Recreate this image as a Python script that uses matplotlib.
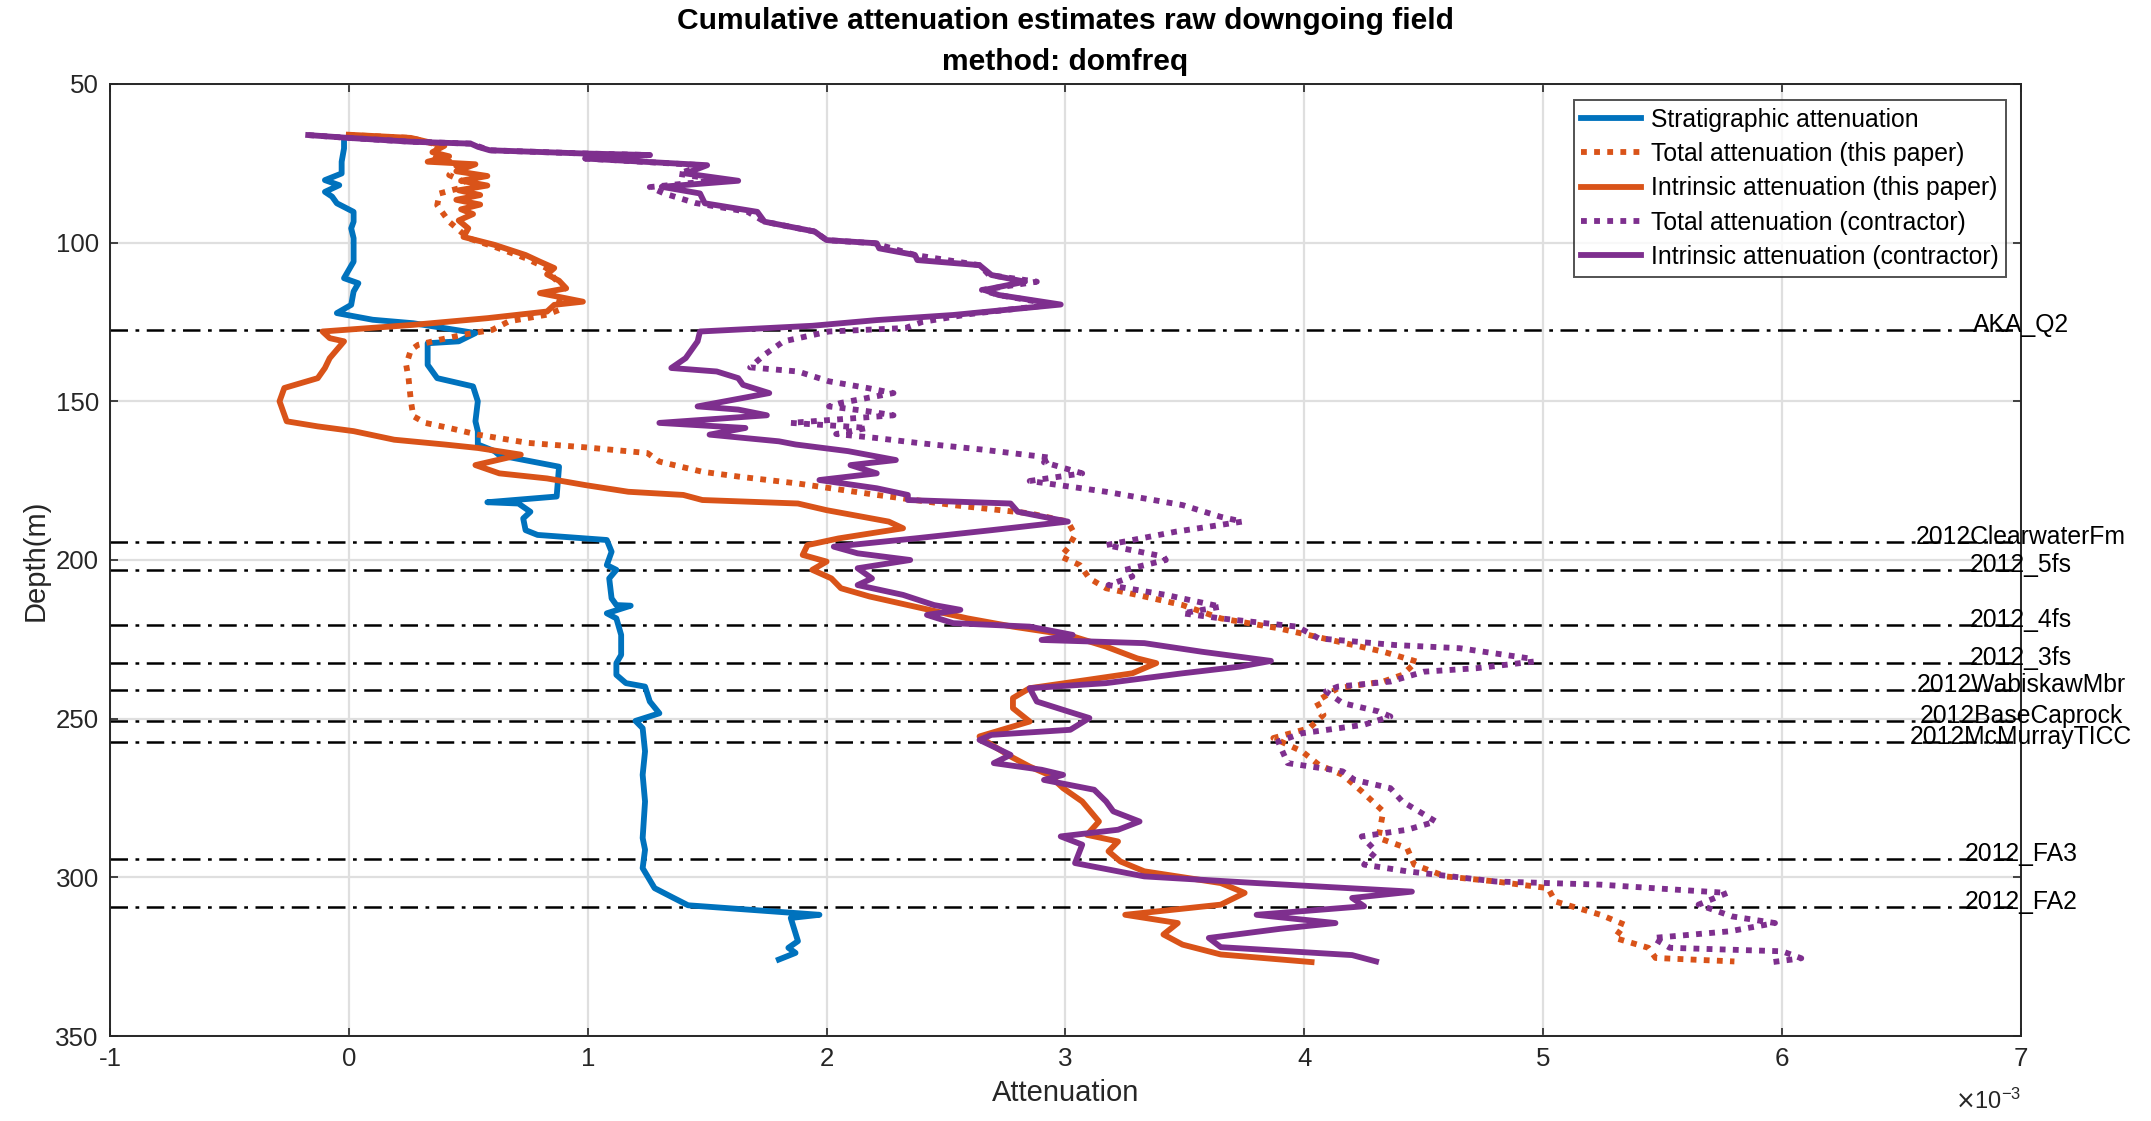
import numpy as np
import matplotlib
matplotlib.use("Agg")
import matplotlib.pyplot as plt

plt.rcParams['font.family'] = ['Liberation Sans', 'DejaVu Sans']
plt.rcParams['axes.unicode_minus'] = False

# depth (m) and attenuation (x1e-3) picked per curve
strat_depth = [67.0, 70.3, 74.5, 78.2, 80.3, 81.9, 84.0, 85.5, 87.6, 90.3, 93.4, 95.5, 98.6, 102.8,
               106.0, 111.2, 112.8, 115.4, 119.6, 122.2, 124.3, 125.4, 126.7, 128.5, 131.1, 131.7,
               138.5, 142.7, 145.3, 150.0, 156.3, 159.4, 163.6, 165.7, 167.0, 170.6, 180.0, 181.8,
               182.2, 184.8, 186.9, 190.6, 192.1, 193.7, 197.4, 201.6, 203.1, 205.8, 212.1, 214.2,
               214.4, 216.8, 218.4, 223.6, 229.9, 232.5, 236.2, 238.8, 239.9, 244.6, 248.3, 250.7,
               253.0, 260.3, 267.7, 276.1, 287.6, 291.3, 297.1, 303.4, 306.5, 308.8, 311.8, 312.8,
               320.1, 322.2, 323.8, 325.9]
strat_att = [-0.02, -0.02, -0.03, -0.03, -0.10, -0.04, -0.10, -0.07, -0.05, 0.02, 0.02, 0.01, 0.02, 0.02,
             0.02, -0.02, 0.04, 0.02, 0.01, -0.05, 0.10, 0.27, 0.38, 0.53, 0.46, 0.33,
             0.33, 0.37, 0.52, 0.54, 0.53, 0.54, 0.54, 0.61, 0.63, 0.88, 0.87, 0.58,
             0.71, 0.76, 0.73, 0.74, 0.79, 1.08, 1.10, 1.08, 1.12, 1.09, 1.10, 1.12,
             1.18, 1.08, 1.12, 1.14, 1.14, 1.12, 1.12, 1.16, 1.24, 1.26, 1.30, 1.20,
             1.23, 1.24, 1.23, 1.24, 1.23, 1.24, 1.23, 1.28, 1.36, 1.42, 1.97, 1.85,
             1.88, 1.84, 1.87, 1.80]

tot_paper_depth = [66.1, 67.0, 69.3, 72.4, 75.6, 78.7, 80.8, 82.9, 84.5, 88.2, 93.4, 98.6, 101.3,
                   104.9, 108.1, 111.2, 114.4, 118.6, 121.2, 122.7, 124.8, 127.5, 129.0, 130.6,
                   132.2, 133.8, 138.5, 142.7, 150.0, 154.7, 156.8, 158.4, 160.5, 163.1, 164.5,
                   166.3, 169.0, 172.2, 173.8, 175.9, 179.5, 182.7, 185.3, 187.9, 192.1, 196.3,
                   198.9, 201.6, 205.8, 208.9, 211.5, 214.2, 218.4, 221.5, 225.7, 228.9, 232.0,
                   236.2, 238.3, 240.4, 244.6, 248.8, 253.0, 256.1, 260.3, 264.5, 267.7, 272.9,
                   279.2, 287.6, 290.8, 296.0, 299.7, 301.3, 303.4, 307.6, 311.8, 314.9, 319.1,
                   322.2, 325.4, 326.5]
tot_paper_att = [0.00, 0.26, 0.38, 0.35, 0.46, 0.42, 0.48, 0.46, 0.38, 0.37, 0.42, 0.50, 0.61,
                 0.74, 0.83, 0.86, 0.90, 0.88, 0.88, 0.83, 0.67, 0.60, 0.48, 0.38,
                 0.29, 0.26, 0.24, 0.25, 0.26, 0.27, 0.32, 0.42, 0.54, 0.75, 0.99,
                 1.25, 1.30, 1.48, 1.64, 1.88, 2.21, 2.53, 2.85, 3.01, 3.04, 3.01,
                 2.98, 3.06, 3.10, 3.17, 3.33, 3.49, 3.65, 3.89, 4.14, 4.33, 4.47,
                 4.41, 4.33, 4.14, 4.05, 4.08, 4.02, 3.87, 3.99, 4.06, 4.16, 4.24,
                 4.33, 4.31, 4.43, 4.46, 4.59, 4.80, 5.02, 5.05, 5.24, 5.34, 5.30,
                 5.44, 5.47, 5.80]

int_paper_depth = [66.0, 67.0, 69.5, 71.5, 72.8, 74.5, 75.3, 77.5, 79.0, 80.5, 82.0, 83.5, 85.0,
                   86.5, 88.0, 89.5, 91.0, 93.0, 95.5, 98.2, 100.7, 103.9, 106.0, 108.0, 110.0,
                   112.0, 114.4, 115.9, 118.6, 119.6, 121.7, 123.8, 125.9, 128.0, 130.1, 131.1,
                   136.4, 139.5, 142.7, 145.8, 150.0, 156.3, 157.9, 159.4, 162.1, 163.6, 164.7,
                   166.8, 170.1, 172.7, 174.3, 176.4, 178.5, 179.5, 181.1, 182.2, 184.3, 187.9,
                   190.0, 193.2, 195.3, 198.4, 200.5, 203.1, 205.8, 208.9, 211.5, 214.2, 218.4,
                   221.0, 223.6, 227.3, 231.0, 232.5, 235.7, 237.8, 240.4, 243.5, 246.7, 250.9,
                   255.6, 258.2, 261.9, 265.1, 267.7, 271.9, 276.1, 282.4, 286.6, 288.7, 291.8,
                   295.0, 298.1, 301.8, 304.9, 308.6, 311.8, 314.4, 318.0, 321.2, 324.3, 326.7]
int_paper_att = [0.00, 0.26, 0.40, 0.35, 0.42, 0.33, 0.53, 0.45, 0.58, 0.47, 0.58, 0.46, 0.55,
                 0.45, 0.55, 0.47, 0.52, 0.46, 0.50, 0.48, 0.61, 0.74, 0.80, 0.86, 0.83,
                 0.88, 0.91, 0.80, 0.98, 0.86, 0.83, 0.58, 0.27, -0.11, -0.08, -0.02,
                 -0.08, -0.10, -0.13, -0.27, -0.29, -0.26, -0.13, 0.02, 0.19, 0.40, 0.54,
                 0.72, 0.53, 0.63, 0.83, 0.99, 1.17, 1.40, 1.48, 1.88, 2.00, 2.26,
                 2.32, 2.05, 1.92, 1.90, 2.00, 1.94, 2.02, 2.06, 2.18, 2.34, 2.59,
                 2.78, 3.01, 3.17, 3.30, 3.38, 3.28, 3.09, 2.85, 2.78, 2.78, 2.85,
                 2.64, 2.69, 2.77, 2.85, 2.93, 2.99, 3.07, 3.14, 3.09, 3.22, 3.18,
                 3.23, 3.33, 3.65, 3.75, 3.65, 3.25, 3.47, 3.41, 3.49, 3.65, 4.03]

tot_con_depth = [66.1, 67.0, 68.2, 68.8, 70.9, 71.9, 72.4, 73.5, 75.6, 78.3, 80.3, 82.5, 84.5,
                 87.5, 90.3, 93.4, 96.5, 99.2, 100.2, 103.9, 107.1, 110.2, 112.3, 114.9, 116.5,
                 119.5, 122.5, 125.0, 126.9, 128.0, 131.1, 135.3, 139.3, 140.6, 143.7, 145.8,
                 147.4, 150.5, 151.6, 153.1, 154.4, 156.8, 157.9, 158.4, 160.3, 161.5, 163.1,
                 165.2, 167.8, 169.2, 172.7, 175.1, 178.5, 182.7, 186.4, 187.9, 191.1, 195.3,
                 198.9, 200.0, 203.1, 205.2, 207.9, 211.0, 214.7, 216.8, 218.4, 221.0, 224.7,
                 226.8, 227.8, 231.0, 232.0, 234.1, 235.2, 238.3, 239.9, 241.4, 245.1, 247.7,
                 249.3, 251.9, 254.6, 257.2, 264.0, 266.6, 269.3, 271.9, 276.1, 282.4, 285.0,
                 287.1, 291.8, 296.0, 298.1, 301.3, 302.3, 303.9, 304.9, 308.6, 312.3, 314.4,
                 317.0, 319.1, 322.2, 323.3, 325.5, 326.8]
tot_con_att = [-0.17, 0.00, 0.26, 0.51, 0.59, 0.98, 1.26, 0.99, 1.48, 1.38, 1.55, 1.26, 1.32,
               1.45, 1.67, 1.74, 1.95, 2.00, 2.20, 2.37, 2.64, 2.68, 2.88, 2.65, 2.72,
               2.95, 2.60, 2.40, 2.33, 2.01, 1.82, 1.74, 1.68, 1.88, 2.01, 2.17,
               2.28, 2.06, 2.01, 2.17, 2.28, 1.85, 2.08, 2.17, 2.04, 2.20, 2.38,
               2.65, 2.94, 2.91, 3.07, 2.85, 3.17, 3.49, 3.65, 3.74, 3.46, 3.17,
               3.41, 3.42, 3.25, 3.28, 3.18, 3.42, 3.65, 3.49, 3.65, 3.97, 4.06,
               4.38, 4.65, 4.94, 4.96, 4.72, 4.50, 4.36, 4.14, 4.09, 4.16, 4.31,
               4.36, 4.25, 3.99, 3.89, 3.93, 4.16, 4.21, 4.36, 4.41, 4.55, 4.43,
               4.24, 4.30, 4.25, 4.43, 4.80, 5.24, 5.56, 5.77, 5.65, 5.79, 5.97,
               5.78, 5.46, 5.53, 6.00, 6.08, 5.95]

int_con_depth = [66.1, 67.0, 68.2, 68.8, 69.8, 70.9, 71.9, 72.4, 73.5, 75.6, 78.2, 80.5, 82.4,
                 84.5, 87.6, 90.3, 93.4, 96.5, 99.2, 100.2, 101.8, 103.9, 105.5, 107.1, 110.2,
                 112.3, 114.9, 116.5, 119.5, 122.8, 124.4, 126.2, 128.0, 131.1, 136.4, 139.5,
                 140.6, 142.7, 144.8, 147.4, 151.6, 152.6, 154.4, 156.8, 158.4, 160.5, 162.6,
                 163.6, 165.7, 168.5, 170.1, 172.7, 174.8, 177.4, 179.5, 181.1, 182.2, 184.8,
                 187.9, 190.6, 193.2, 195.8, 197.9, 200.0, 202.6, 205.8, 207.9, 211.0, 214.2,
                 215.7, 217.3, 219.9, 221.0, 223.6, 225.2, 226.2, 228.9, 231.8, 233.6, 235.7,
                 238.8, 240.4, 244.6, 247.7, 249.8, 253.5, 255.1, 256.7, 261.4, 264.0, 266.1,
                 267.7, 269.3, 272.4, 276.1, 279.2, 282.4, 285.0, 287.1, 289.7, 295.5, 299.7,
                 301.8, 304.5, 306.5, 309.1, 311.8, 314.4, 316.2, 319.1, 322.0, 324.5, 326.5]
int_con_att = [-0.17, 0.00, 0.26, 0.51, 0.54, 0.59, 0.98, 1.26, 0.99, 1.50, 1.41, 1.63, 1.31,
               1.47, 1.49, 1.71, 1.74, 1.95, 2.00, 2.21, 2.22, 2.37, 2.38, 2.64, 2.69,
               2.83, 2.66, 2.72, 2.98, 2.53, 2.21, 1.94, 1.47, 1.46, 1.41, 1.35,
               1.54, 1.63, 1.65, 1.76, 1.46, 1.63, 1.75, 1.30, 1.66, 1.51, 1.80,
               1.87, 2.09, 2.29, 2.10, 2.21, 1.97, 2.21, 2.34, 2.34, 2.77, 2.80,
               3.01, 2.69, 2.37, 2.03, 2.13, 2.35, 2.13, 2.19, 2.13, 2.32, 2.45,
               2.56, 2.42, 2.53, 2.85, 3.03, 2.90, 3.33, 3.57, 3.86, 3.73, 3.49,
               3.17, 2.85, 2.88, 3.01, 3.10, 3.02, 2.69, 2.64, 2.77, 2.70, 2.90,
               2.99, 2.91, 3.12, 3.17, 3.20, 3.31, 3.22, 2.98, 3.07, 3.04, 3.33,
               3.80, 4.45, 4.20, 4.25, 3.80, 4.13, 3.90, 3.60, 3.65, 4.20, 4.30]

horizon_names = ['AKA_Q2', '2012ClearwaterFm', '2012_5fs', '2012_4fs', '2012_3fs',
                 '2012WabiskawMbr', '2012BaseCaprock', '2012McMurrayTICC', '2012_FA3', '2012_FA2']
horizon_depths = [127.5, 194.4, 203.1, 220.6, 232.5, 241.0, 250.7, 257.4, 294.2, 309.3]

blue = '#0072BD'
orange = '#D95319'
purple = '#7E2F8E'
ink = '#262626'
dots = (0, (1.0, 1.25))

fig = plt.figure(figsize=(2151 / 200, 1121 / 200), dpi=200)
ax = fig.add_axes([0.0511, 0.0758, 0.8885, 0.8493])

ax.plot(strat_att, strat_depth, color=blue, lw=2.1, label='Stratigraphic attenuation')
ax.plot(tot_paper_att, tot_paper_depth, color=orange, lw=2.1, ls=dots, label='Total attenuation (this paper)')
ax.plot(int_paper_att, int_paper_depth, color=orange, lw=2.1, label='Intrinsic attenuation (this paper)')
ax.plot(tot_con_att, tot_con_depth, color=purple, lw=2.1, ls=dots, label='Total attenuation (contractor)')
ax.plot(int_con_att, int_con_depth, color=purple, lw=2.1, label='Intrinsic attenuation (contractor)')

for name, d in zip(horizon_names, horizon_depths):
    ax.axhline(d, color='black', lw=0.9, ls=(0, (7, 3, 1.5, 3)), zorder=1)
    ax.text(7, d + 0.6, name, ha='center', va='baseline', fontsize=8.9, color='black', clip_on=False)

ax.set_xlim(-1, 7)
ax.set_ylim(350, 50)
ax.set_xticks(np.arange(-1, 8, 1))
ax.set_yticks(np.arange(50, 351, 50))
ax.grid(True, color='#DFDFDF', lw=0.8)
ax.set_axisbelow(True)
ax.tick_params(direction='in', length=2.9, width=0.6, top=True, right=True,
               labelsize=9.3, colors=ink, pad=4)
for s in ax.spines.values():
    s.set_color(ink)
    s.set_linewidth(0.7)

ax.set_xlabel('Attenuation', fontsize=10.5, color=ink, labelpad=3)
ax.set_ylabel('Depth(m)', fontsize=10.5, color=ink, labelpad=2)
ax.set_title('Cumulative attenuation estimates raw downgoing field\nmethod: domfreq',
             fontsize=10.8, fontweight='bold', color='black', pad=5, linespacing=1.6)

# exponent note for the x axis, at the height of the axis label
ax.text(1.0, -0.069, r'$\times\mathregular{10^{-3}}$', transform=ax.transAxes,
        ha='right', va='center', fontsize=8.5, color=ink)

leg = ax.legend(loc='upper right', bbox_to_anchor=(0.992, 0.983), borderaxespad=0,
                fontsize=8.9, frameon=True, fancybox=False, edgecolor=ink,
                handlelength=2.4, handletextpad=0.4, labelspacing=0.42, borderpad=0.3)
leg.get_frame().set_linewidth(0.7)

fig.savefig('out.png', dpi=200)
